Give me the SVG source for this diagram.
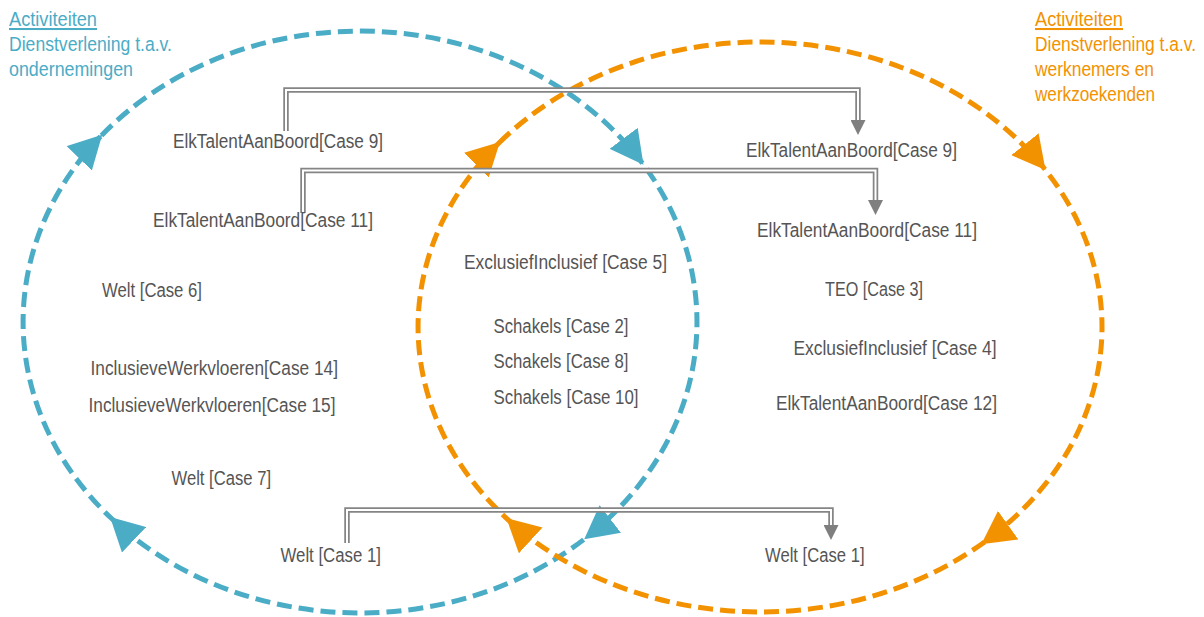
<svg xmlns="http://www.w3.org/2000/svg" width="1204" height="617" viewBox="0 0 1204 617">
  <style>
    .lbl { font-family: "Liberation Sans", Arial, sans-serif; font-size: 19.5px; fill: #555555; }
    .ttl { font-family: "Liberation Sans", Arial, sans-serif; font-size: 20.5px; }
    .tb { fill: #4BACC6; }
    .to { fill: #F39200; }
    .ring { fill: none; stroke-width: 5; stroke-dasharray: 15 7; }
    .rb { stroke: #4BACC6; marker-mid: url(#ab); marker-end: url(#ab); }
    .ro { stroke: #F39200; marker-mid: url(#ao); marker-end: url(#ao); }
    .cOut { fill: none; stroke: #858585; stroke-width: 5.5; stroke-linejoin: miter; marker-end: url(#ag); }
    .cIn { fill: none; stroke: #ffffff; stroke-width: 2; stroke-linejoin: miter; }
  </style>
  <defs>
    <marker id="ab" markerUnits="userSpaceOnUse" viewBox="0 0 33 35" markerWidth="33" markerHeight="35" refX="32" refY="17.5" orient="auto">
      <path d="M0,0 L33,17.5 L0,35 z" fill="#4BACC6"/>
    </marker>
    <marker id="ao" markerUnits="userSpaceOnUse" viewBox="0 0 33 35" markerWidth="33" markerHeight="35" refX="32" refY="17.5" orient="auto">
      <path d="M0,0 L33,17.5 L0,35 z" fill="#F39200"/>
    </marker>
    <marker id="ag" markerUnits="userSpaceOnUse" viewBox="0 0 15 15" markerWidth="15" markerHeight="15" refX="0" refY="7.5" orient="auto">
      <path d="M0,0 L15,7.5 L0,15 z" fill="#7F7F7F"/>
    </marker>
  </defs>
  <rect width="1204" height="617" fill="#ffffff"/>

  <g id="cycle-ondernemingen">
    <path class="ring rb" d="M101.5,135.4 A337,291 0 0 1 642.9,163.9 A337,291 0 0 1 585,538.6 A337,291 0 0 1 110.8,517.8 A337,291 0 0 1 101.5,135.4"/>
  </g>
  <g id="cycle-werknemers">
    <path class="ring ro" d="M499.2,142.7 A342,285 0 0 1 1044.9,169.3 A342,285 0 0 1 982.1,543.7 A342,285 0 0 1 507.1,518.8 A342,285 0 0 1 499.2,142.7"/>
  </g>

  <g id="connectors">
    <path class="cOut" d="M286,131 V90 H858 V120"/>
    <path class="cIn" d="M286,131 V90 H858 V120"/>
    <path class="cOut" d="M303,213 V170.5 H875.5 V200"/>
    <path class="cIn" d="M303,213 V170.5 H875.5 V200"/>
    <path class="cOut" d="M347,543 V510 H831 V525"/>
    <path class="cIn" d="M347,543 V510 H831 V525"/>
  </g>

  <g id="title-ondernemingen">
    <text class="ttl tb" x="9" y="26" textLength="88" lengthAdjust="spacingAndGlyphs" text-decoration="underline">Activiteiten</text>
    <text class="ttl tb" x="9" y="51" textLength="163" lengthAdjust="spacingAndGlyphs">Dienstverlening t.a.v.</text>
    <text class="ttl tb" x="9" y="76" textLength="124" lengthAdjust="spacingAndGlyphs">ondernemingen</text>
  </g>
  <g id="title-werknemers">
    <text class="ttl to" x="1035" y="26" textLength="88" lengthAdjust="spacingAndGlyphs" text-decoration="underline">Activiteiten</text>
    <text class="ttl to" x="1035" y="51" textLength="161" lengthAdjust="spacingAndGlyphs">Dienstverlening t.a.v.</text>
    <text class="ttl to" x="1035" y="76" textLength="119" lengthAdjust="spacingAndGlyphs">werknemers en</text>
    <text class="ttl to" x="1035" y="101" textLength="120" lengthAdjust="spacingAndGlyphs">werkzoekenden</text>
  </g>

  <g id="n-etab9-left"><text class="lbl" x="173" y="148" textLength="210" lengthAdjust="spacingAndGlyphs">ElkTalentAanBoord[Case 9]</text></g>
  <g id="n-etab11-left"><text class="lbl" x="153" y="227" textLength="220" lengthAdjust="spacingAndGlyphs">ElkTalentAanBoord[Case 11]</text></g>
  <g id="n-welt6"><text class="lbl" x="102" y="296.5" textLength="100" lengthAdjust="spacingAndGlyphs">Welt [Case 6]</text></g>
  <g id="n-iw14"><text class="lbl" x="90.5" y="375" textLength="247.5" lengthAdjust="spacingAndGlyphs">InclusieveWerkvloeren[Case 14]</text></g>
  <g id="n-iw15"><text class="lbl" x="88.5" y="411.5" textLength="247" lengthAdjust="spacingAndGlyphs">InclusieveWerkvloeren[Case 15]</text></g>
  <g id="n-welt7"><text class="lbl" x="171.5" y="485" textLength="99.5" lengthAdjust="spacingAndGlyphs">Welt [Case 7]</text></g>
  <g id="n-welt1-left"><text class="lbl" x="280.5" y="562" textLength="100.5" lengthAdjust="spacingAndGlyphs">Welt [Case 1]</text></g>

  <g id="n-ei5"><text class="lbl" x="464" y="269" textLength="203" lengthAdjust="spacingAndGlyphs">ExclusiefInclusief [Case 5]</text></g>
  <g id="n-sch2"><text class="lbl" x="493.5" y="332.5" textLength="135" lengthAdjust="spacingAndGlyphs">Schakels [Case 2]</text></g>
  <g id="n-sch8"><text class="lbl" x="493.5" y="368" textLength="135" lengthAdjust="spacingAndGlyphs">Schakels [Case 8]</text></g>
  <g id="n-sch10"><text class="lbl" x="493.5" y="404" textLength="145" lengthAdjust="spacingAndGlyphs">Schakels [Case 10]</text></g>

  <g id="n-etab9-right"><text class="lbl" x="746" y="156.5" textLength="211" lengthAdjust="spacingAndGlyphs">ElkTalentAanBoord[Case 9]</text></g>
  <g id="n-etab11-right"><text class="lbl" x="757" y="236.5" textLength="220" lengthAdjust="spacingAndGlyphs">ElkTalentAanBoord[Case 11]</text></g>
  <g id="n-teo3"><text class="lbl" x="825" y="296" textLength="98" lengthAdjust="spacingAndGlyphs">TEO [Case 3]</text></g>
  <g id="n-ei4"><text class="lbl" x="793.5" y="355" textLength="203" lengthAdjust="spacingAndGlyphs">ExclusiefInclusief [Case 4]</text></g>
  <g id="n-etab12"><text class="lbl" x="776" y="410" textLength="221" lengthAdjust="spacingAndGlyphs">ElkTalentAanBoord[Case 12]</text></g>
  <g id="n-welt1-right"><text class="lbl" x="765" y="562" textLength="99.5" lengthAdjust="spacingAndGlyphs">Welt [Case 1]</text></g>
</svg>
